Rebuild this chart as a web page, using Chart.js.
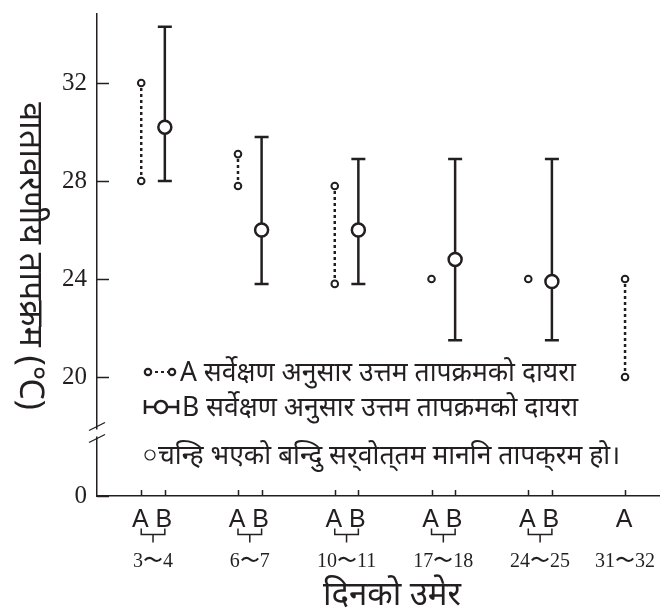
<!DOCTYPE html>
<html>
<head>
<meta charset="utf-8">
<script src="https://cdn.jsdelivr.net/npm/chart.js@4.4.1/dist/chart.umd.min.js"></script>
<style>
  html,body{margin:0;padding:0;background:#fff;}
  #wrap{width:669px;height:616px;position:relative;}
</style>
</head>
<body>
<div id="wrap"><canvas id="c"></canvas></div>
<script>
// ========= DATA =========
const groups  = ['3〜4','6〜7','10〜11','17〜18','24〜25','31〜32'];
const aLow    = [28, 27.8, 23.8, 24, 24, 20];
const aHigh   = [32, 29.1, 27.8, null, null, 24];
const bLow    = [28, 23.8, 23.8, 21.5, 21.5, null];
const bHigh   = [34.3, 29.8, 28.9, 28.9, 28.9, null];
const bBest   = [30.2, 26, 26, 24.8, 23.9, null];
const yTicks  = [20, 24, 28, 32];
const yBreakLabel = '0';
const yTitle  = 'वातावरणीय तापक्रम (℃)';
const xTitle  = 'दिनको उमेर';
const legendA = 'A सर्वेक्षण अनुसार उत्तम तापक्रमको दायरा';
const legendB = 'B सर्वेक्षण अनुसार उत्तम तापक्रमको दायरा';
const noteTxt = 'चन्हि भएको बन्दिु सर्‌वोत्‌तम माननि तापक्‌रम हो।';

const INK = '#231f20';
const Y_MIN = 15.14, Y_MAX = 34.82;   // bottom of axis shows "0" (broken axis)
const B_OFF = 0.244;                  // B sits just right of A in each group
const DEVA = '"Noto Sans", "Noto Sans Devanagari", "Lohit Devanagari", sans-serif';

// ========= BUILD POINTS =========
const aLine = [], bLine = [], bCaps = [], bMid = [], xTickVals = [], xTickTxt = [];
groups.forEach((g,i)=>{
    const xa = i+1, xb = i+1+B_OFF;
    aLine.push({x:xa, y:aLow[i]});
    if(aHigh[i]!==null) aLine.push({x:xa, y:aHigh[i]});
    aLine.push({x:xa, y:null});
    xTickVals.push(xa); xTickTxt.push('A');
    if(bBest[i]!==null){
        bLine.push({x:xb, y:bLow[i]},{x:xb, y:bHigh[i]},{x:xb, y:null});
        bCaps.push({x:xb, y:bLow[i]},{x:xb, y:bHigh[i]});
        bMid.push({x:xb, y:bBest[i]});
        xTickVals.push(xb); xTickTxt.push('B');
    }
});

// ========= DECORATION PLUGIN =========
const decor = {
    id:'decor',
    afterDraw(chart){
        const {ctx, chartArea:ca, scales:{x,y}} = chart;
        ctx.save();
        ctx.strokeStyle = INK; ctx.fillStyle = INK; ctx.lineWidth = 1.5;

        // inside ticks
        y.ticks.forEach(t=>{
            const py = Math.round(y.getPixelForValue(t.value))+0.5;
            ctx.beginPath(); ctx.moveTo(ca.left, py); ctx.lineTo(ca.left+12, py); ctx.stroke();
        });
        xTickVals.forEach(v=>{
            const px = Math.round(x.getPixelForValue(v))+0.5;
            ctx.beginPath(); ctx.moveTo(px, ca.bottom); ctx.lineTo(px, ca.bottom-6); ctx.stroke();
        });

        // axis break
        const by = (y.getPixelForValue(20)+y.getPixelForValue(Y_MIN))/2 - 4;
        ctx.fillStyle = '#fff'; ctx.fillRect(ca.left-3, by-3, 6, 7);
        ctx.lineWidth = 1.3;
        [-6, 6].forEach(d=>{
            ctx.beginPath(); ctx.moveTo(ca.left-8, by+d+4); ctx.lineTo(ca.left+8, by+d-4); ctx.stroke();
        });

        // brackets + range labels
        ctx.fillStyle = INK; ctx.lineWidth = 1.5;
        ctx.font = '20px "Liberation Serif", serif';
        ctx.textAlign = 'center'; ctx.textBaseline = 'middle';
        groups.forEach((g,i)=>{
            const xa = x.getPixelForValue(i+1);
            let cx = xa;
            if(bBest[i]!==null){
                const xb = x.getPixelForValue(i+1+B_OFF);
                cx = (xa+xb)/2;
                const yb = ca.bottom+38.5;
                ctx.beginPath();
                ctx.moveTo(xa, yb-6); ctx.lineTo(xa, yb); ctx.lineTo(xb, yb); ctx.lineTo(xb, yb-6);
                ctx.moveTo(cx, yb); ctx.lineTo(cx, yb+8);
                ctx.stroke();
            }
            ctx.fillText(g, cx, ca.bottom+66);
        });

        // axis titles
        ctx.font = '33px '+DEVA;
        ctx.fillText(xTitle, 392, 596);
        ctx.save();
        ctx.translate(30, 256); ctx.rotate(Math.PI/2);
        ctx.font = '34px '+DEVA;
        ctx.fillText(yTitle, 0, 0);
        ctx.restore();

        // legend
        const lx = ca.left+48;
        ctx.textAlign = 'left';
        ctx.font = '26.5px '+DEVA;
        // row A
        let ly = 372;
        ctx.lineWidth = 2.2; ctx.setLineDash([3,3]);
        ctx.beginPath(); ctx.moveTo(lx+4, ly); ctx.lineTo(lx+26, ly); ctx.stroke();
        ctx.setLineDash([]);
        [lx+3, lx+27].forEach(px=>{
            ctx.beginPath(); ctx.arc(px, ly, 3.2, 0, Math.PI*2);
            ctx.fillStyle='#fff'; ctx.fill(); ctx.stroke();
        });
        ctx.fillStyle = INK; ctx.fillText(legendA, lx+35, ly+1);
        // row B
        ly = 407;
        ctx.lineWidth = 2.5;
        ctx.beginPath();
        ctx.moveTo(lx, ly-7); ctx.lineTo(lx, ly+7);
        ctx.moveTo(lx, ly); ctx.lineTo(lx+33, ly);
        ctx.moveTo(lx+33, ly-7); ctx.lineTo(lx+33, ly+7);
        ctx.stroke();
        ctx.beginPath(); ctx.arc(lx+16, ly, 6, 0, Math.PI*2);
        ctx.fillStyle='#fff'; ctx.fill(); ctx.stroke();
        ctx.fillStyle = INK; ctx.fillText(legendB, lx+37, ly+1);
        // note row
        ly = 455;
        ctx.lineWidth = 1.2;
        ctx.beginPath(); ctx.arc(lx+5, ly, 5, 0, Math.PI*2); ctx.stroke();
        ctx.fillText(noteTxt, lx+13, ly+1);

        ctx.restore();
    }
};

// ========= CHART =========
new Chart(document.getElementById('c'), {
    type:'scatter',
    data:{
        datasets:[
            {label:'B best', data:bMid, pointRadius:6.5, pointBorderWidth:2.5,
             pointBackgroundColor:'#fff', pointBorderColor:INK, showLine:false},
            {label:'B caps', data:bCaps, pointStyle:'line', pointRadius:7, pointBorderWidth:2.5,
             pointBorderColor:INK, showLine:false},
            {label:'A', data:aLine, showLine:true, spanGaps:false, borderColor:INK, borderWidth:2.5,
             borderDash:[3,3], pointRadius:3.3, pointBorderWidth:2, pointBackgroundColor:'#fff',
             pointBorderColor:INK},
            {label:'B range', data:bLine, showLine:true, spanGaps:false, borderColor:INK, borderWidth:2.5,
             pointRadius:0}
        ]
    },
    options:{
        responsive:true, maintainAspectRatio:false, animation:false,
        layout:{padding:{top:14, left:0, right:0, bottom:0}},
        plugins:{legend:{display:false}, tooltip:{enabled:false}},
        scales:{
            x:{
                type:'linear', min:0.543, max:6.356,
                afterFit: s=>{ s.height = 120; s.paddingLeft = 0; s.paddingRight = 0; },
                afterBuildTicks: s=>{ s.ticks = xTickVals.map(v=>({value:v})); },
                grid:{display:false, drawTicks:false},
                border:{display:true, color:INK, width:1.5},
                ticks:{
                    autoSkip:false, maxRotation:0, padding:9, labelOffset:-1, color:INK,
                    font:{family:'"Liberation Sans", Arial, sans-serif', size:25},
                    callback:(v,i)=>xTickTxt[i]
                }
            },
            y:{
                type:'linear', min:Y_MIN, max:Y_MAX,
                afterFit: s=>{ s.width = 97; s.paddingTop = 0; s.paddingBottom = 0; },
                afterBuildTicks: s=>{ s.ticks = [{value:Y_MIN}].concat(yTicks.map(v=>({value:v}))); },
                grid:{display:false, drawTicks:false},
                border:{display:true, color:INK, width:1.5},
                ticks:{
                    padding:10, color:INK,
                    font:{family:'"Liberation Serif", "Times New Roman", serif', size:25},
                    callback:v=> v===Y_MIN ? yBreakLabel : String(v)
                }
            }
        }
    },
    plugins:[decor]
});
</script>
</body>
</html>
